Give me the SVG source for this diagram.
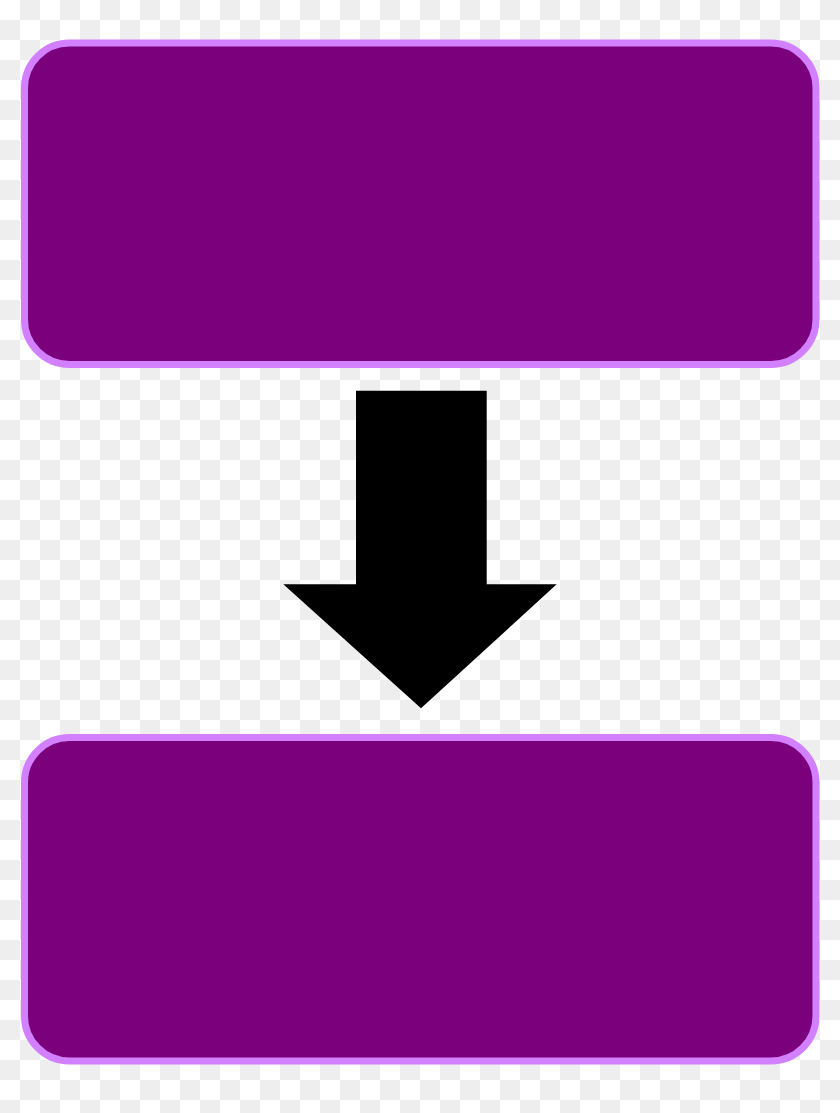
<svg xmlns="http://www.w3.org/2000/svg" width="840" height="1113" viewBox="0 0 840 1113">
  <defs>
    <pattern id="checker" x="0" y="0" width="40" height="40" patternUnits="userSpaceOnUse">
      <rect x="0" y="0" width="40" height="40" fill="#FFFFFF"/>
      <rect x="20" y="0" width="20" height="20" fill="#EEEEEE"/>
      <rect x="0" y="20" width="20" height="20" fill="#EEEEEE"/>
    </pattern>
  </defs>
  <style>
    .box { fill: #7B007B; stroke: #D280FF; stroke-width: 7; }
    .arrow { fill: #000000; }
  </style>
  <rect x="0" y="0" width="840" height="1113" fill="url(#checker)"/>
  <g id="node-top">
    <rect class="box" x="24.5" y="43" width="791.5" height="321.5" rx="45" ry="45"/>
  </g>
  <g id="node-bottom">
    <rect class="box" x="24.5" y="737.5" width="791.5" height="323.5" rx="45" ry="45"/>
  </g>
  <g id="connectors">
    <path class="arrow" d="M356,390.7 L486.7,390.7 L486.7,584.3 L556.7,584.3 L421,708.3 L283.3,584.3 L356,584.3 Z"/>
  </g>
</svg>
